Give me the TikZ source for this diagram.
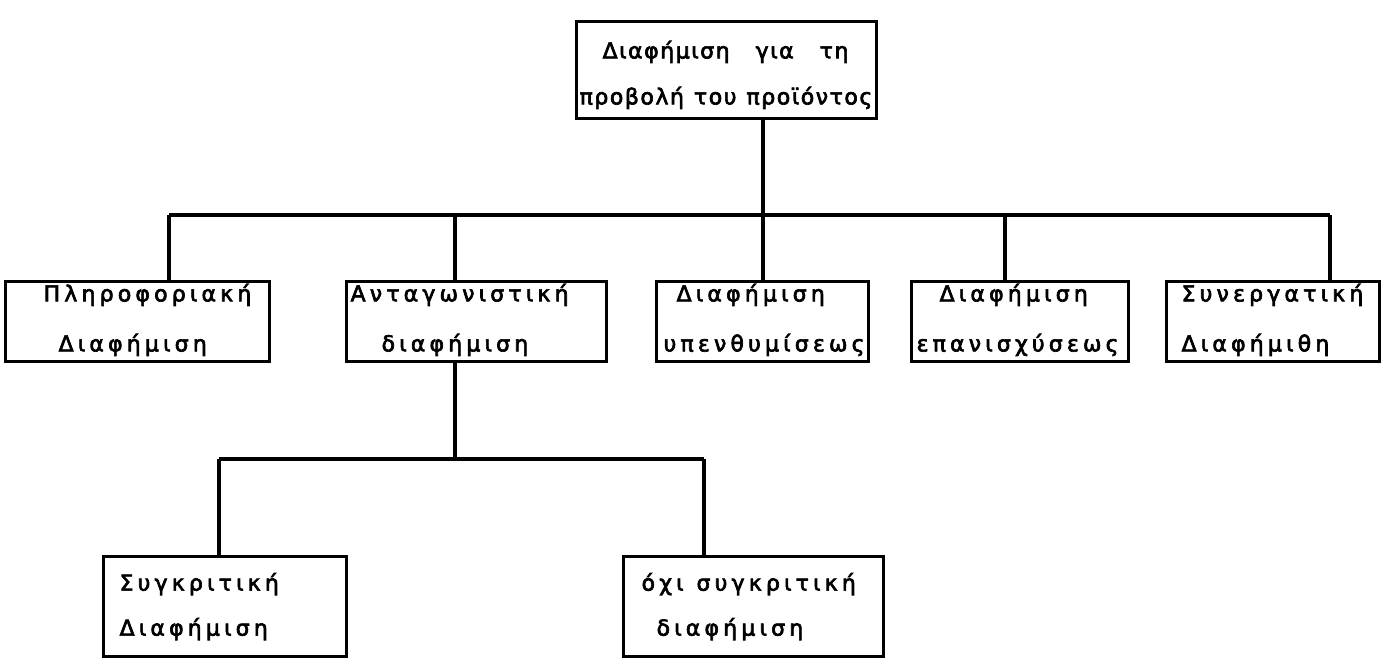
\documentclass[tikz,border=0pt]{standalone}
\usepackage{fontspec}
% typewriter-like lettering: a sans face with extra letter spacing
\newfontfamily\twfont[LetterSpace=19,FakeBold=3]{DejaVu Sans}
\newfontfamily\twfontn[LetterSpace=7,FakeBold=3]{DejaVu Sans}
\newcommand\wgap{\hspace*{13pt}}
\newcommand\ngap{\hspace*{10pt}}
\begin{document}
\begin{tikzpicture}[x=1pt, y=-1pt, line width=3.2pt,
  box/.style={draw, rectangle, anchor=north west, inner xsep=0pt, inner ysep=0pt,
    align=left, font=\twfont\fontsize{22}{50}\selectfont},
  rowbox/.style={box, text depth=58pt},
  lowbox/.style={box, font=\twfont\fontsize{22}{45}\selectfont},
  link/.style={draw, line width=3.2pt}]
\useasboundingbox (0,0) rectangle (1391,662);

% top level
\node[box, text width=300pt, minimum height=97pt, text depth=41pt,
      font=\twfontn\fontsize{22}{46}\selectfont] (root) at (575,20)
  {\hspace*{26pt}Διαφήμιση\wgap\wgap για\wgap\wgap τη\\\hspace*{3pt}προβολή\ngap του\ngap προϊόντος};

% second level
\node[rowbox, text width=264pt, minimum height=80pt] (b1) at (4,280)
  {\hspace*{38pt}Πληροφοριακή\\\hspace*{53pt}Διαφήμιση};
\node[rowbox, text width=260pt, minimum height=80pt] (b2) at (345,280)
  {\hspace*{4pt}Ανταγωνιστική\\\hspace*{35pt}διαφήμιση};
\node[rowbox, text width=212pt, minimum height=80pt] (b3) at (655,280)
  {\hspace*{20pt}Διαφήμιση\\\hspace*{7pt}υπενθυμίσεως};
\node[rowbox, text width=217pt, minimum height=80pt] (b4) at (910,280)
  {\hspace*{28pt}Διαφήμιση\\\hspace*{5pt}επανισχύσεως};
\node[rowbox, text width=213pt, minimum height=80pt] (b5) at (1165,280)
  {\hspace*{15pt}Συνεργατική\\\hspace*{15pt}Διαφήμιθη};

% third level
\node[lowbox, text width=243pt, minimum height=100pt] (c1) at (102,555)
  {\hspace*{16pt}Συγκριτική\\\hspace*{16pt}Διαφήμιση};
\node[lowbox, text width=260pt, minimum height=100pt] (c2) at (622,555)
  {\hspace*{18pt}όχι\wgap συγκριτική\\\hspace*{33pt}διαφήμιση};

% connector coordinates
\coordinate (bar1) at (0,215);
\coordinate (bar2) at (0,459);
\coordinate (d1) at (169,0);
\coordinate (d2) at (455,0);
\coordinate (d3) at (763,0);
\coordinate (d4) at (1005,0);
\coordinate (d5) at (1330,0);
\coordinate (e1) at (219,0);
\coordinate (e2) at (704,0);

% root to second level
\draw[link] (root.south -| d3) -- (b3.north -| d3);
\draw[link] (bar1 -| d1) -- (bar1 -| d5);
\draw[link] (bar1 -| d1) -- (b1.north -| d1);
\draw[link] (bar1 -| d2) -- (b2.north -| d2);
\draw[link] (bar1 -| d4) -- (b4.north -| d4);
\draw[link] (bar1 -| d5) -- (b5.north -| d5);

% competitive advertising to its two kinds
\draw[link] (b2.south -| d2) -- (bar2 -| d2);
\draw[link] (bar2 -| e1) -- (bar2 -| e2);
\draw[link] (bar2 -| e1) -- (c1.north -| e1);
\draw[link] (bar2 -| e2) -- (c2.north -| e2);
\end{tikzpicture}
\end{document}
